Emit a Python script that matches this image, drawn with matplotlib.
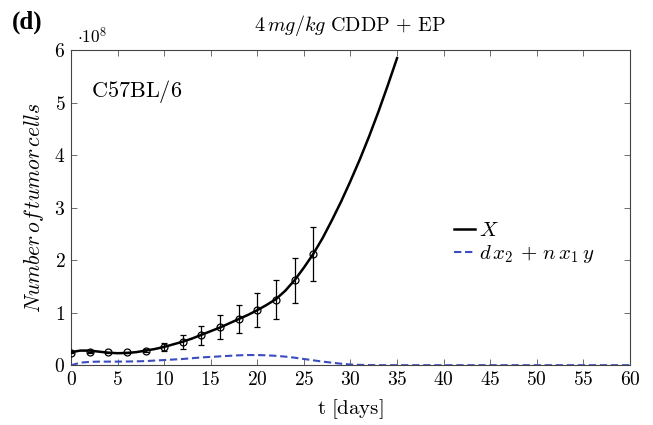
import numpy as np
import matplotlib
matplotlib.use("Agg")
import matplotlib.pyplot as plt
from matplotlib.ticker import FixedLocator, FuncFormatter

plt.rcParams["mathtext.fontset"] = "cm"
plt.rcParams["font.family"] = "serif"
plt.rcParams["font.serif"] = ["DejaVu Serif"]

# measured data (units of 1e8 cells)
t_obs = [0, 2, 4, 6, 8, 10, 12, 14, 16, 18, 20, 22, 24, 26]
x_obs = [0.24, 0.25, 0.25, 0.25, 0.28, 0.35, 0.44, 0.57, 0.73, 0.88, 1.05, 1.25, 1.62, 2.12]
x_err = [0.01, 0.01, 0.01, 0.01, 0.03, 0.08, 0.13, 0.18, 0.23, 0.27, 0.33, 0.37, 0.43, 0.52]

t_model = list(range(0, 36))
x_model = [0.25, 0.28, 0.28, 0.26, 0.24, 0.23, 0.235, 0.25, 0.28, 0.31,
           0.35, 0.40, 0.45, 0.51, 0.58, 0.65, 0.72, 0.80, 0.88, 0.96,
           1.05, 1.15, 1.26, 1.42, 1.62, 1.86, 2.12, 2.42, 2.76, 3.12,
           3.51, 3.92, 4.36, 4.83, 5.33, 5.85]

# d x2 + n x1 y
t_dead = list(range(0, 61))
dead = [0.0, 0.05, 0.065, 0.07, 0.07, 0.07, 0.072, 0.075, 0.08, 0.09,
        0.10, 0.11, 0.12, 0.135, 0.15, 0.16, 0.17, 0.18, 0.19, 0.195,
        0.195, 0.19, 0.18, 0.165, 0.145, 0.12, 0.095, 0.07, 0.05, 0.03,
        0.015, 0.008, 0.004] + [0.002] * 28

x_ticks = list(range(0, 61, 5))
y_ticks = [0, 1, 2, 3, 4, 5, 6]

fig = plt.figure(figsize=(6.53, 4.25), dpi=100)
ax = fig.add_axes([0.1087, 0.1405, 0.856, 0.7411])

ax.plot(t_model, x_model, color="black", lw=1.8, label=r"$X$", zorder=3)
ax.plot(t_dead, dead, color="#3b4cc0", lw=1.5, dashes=(3.5, 1.8),
        label=r"$d\,x_2\,+\,n\,x_1\,y$", zorder=2)
ax.errorbar(t_obs, x_obs, yerr=x_err, fmt="o", mfc="none", mec="black",
            ms=5, mew=0.9, ecolor="black", elinewidth=0.9, capsize=2.5,
            capthick=0.9, color="black", zorder=4)

ax.set_xlim(0, 60)
ax.set_ylim(0, 6)
ax.xaxis.set_major_locator(FixedLocator(x_ticks))
ax.yaxis.set_major_locator(FixedLocator(y_ticks))
ax.xaxis.set_major_formatter(FuncFormatter(lambda v, p: r"$%d$" % v))
ax.yaxis.set_major_formatter(FuncFormatter(lambda v, p: r"$%d$" % v))
ax.tick_params(direction="in", top=True, right=True, length=4, width=0.6,
               color="#555555", labelsize=14, pad=4)
for s in ax.spines.values():
    s.set_linewidth(0.8)
    s.set_color("#444444")

ax.set_xlabel(r"$\mathrm{t\ [days]}$", fontsize=15, labelpad=6)
ax.set_ylabel(r"$Number\,of\,tumor\,cells$", fontsize=15.5, labelpad=6)
ax.set_title(r"$4\,mg/kg\ \mathrm{CDDP}\,+\,\mathrm{EP}$", fontsize=14.5, pad=14)

ax.text(0.035, 0.87, r"$\mathrm{C57BL/6}$", transform=ax.transAxes,
        fontsize=16, va="center", ha="left")
fig.text(77 / 653, 1 - 37 / 425, r"$\cdot 10^{8}$", fontsize=12.5, va="center")
fig.text(12 / 653, 1 - 22 / 425, "(d)", fontsize=18, fontweight="bold",
         family="Liberation Serif", va="center")

ax.legend(loc="upper left", bbox_to_anchor=(0.66, 0.505), frameon=False,
          fontsize=15, handlelength=1.0, handletextpad=0.2, labelspacing=0.15,
          borderpad=0.2)

fig.savefig("out.png", dpi=100)
